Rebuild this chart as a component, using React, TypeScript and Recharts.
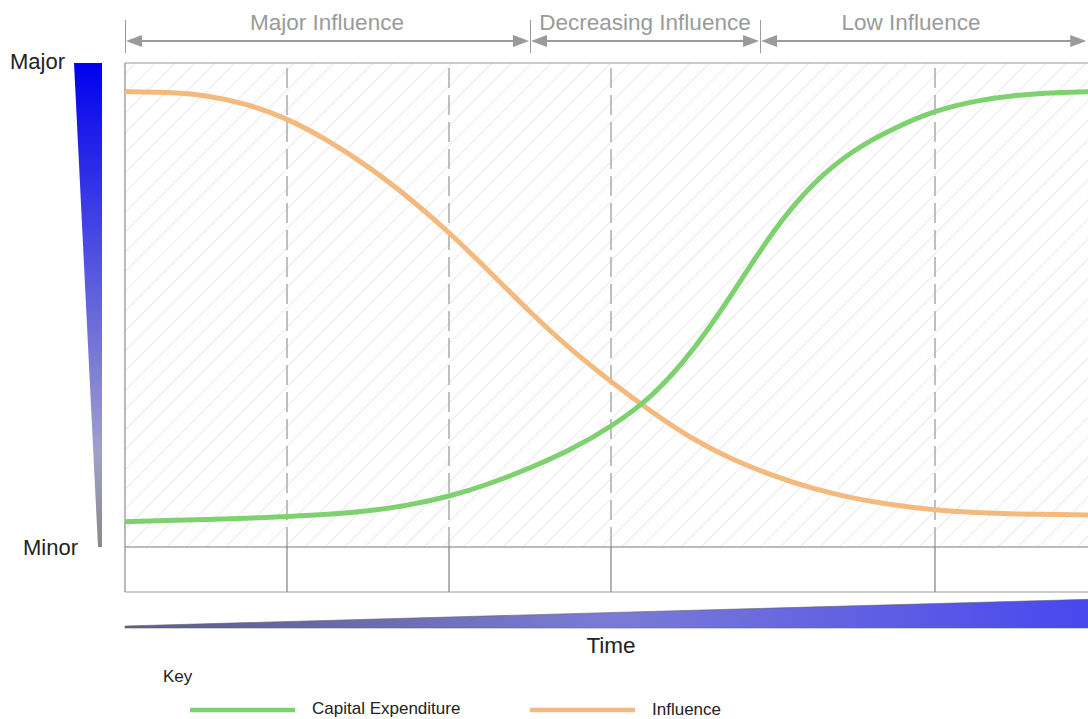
import React from "react";
import { LineChart, Line, XAxis, YAxis, ReferenceArea, ReferenceLine } from "recharts";

// ---- data ----
const timePoints = [0, 0.25, 0.5, 0.75, 1, 1.25, 1.5, 1.75, 2, 2.25, 2.5, 2.75, 3, 3.25, 3.5, 3.75, 4, 4.25, 4.5, 4.75, 5, 5.25, 5.5, 5.75, 6];
const capitalExpenditure = [5.2, 5.5, 5.7, 5.9, 6.3, 6.7, 7.4, 8.6, 10.4, 13.0, 16.3, 20.0, 24.8, 30.8, 40.1, 52.3, 65.5, 75.5, 82.2, 86.6, 90.2, 92.2, 93.4, 93.9, 94.1];
const influence = [94.1, 94.0, 93.4, 91.6, 88.6, 84.1, 78.7, 72.3, 65.1, 56.9, 48.5, 40.8, 34.1, 27.9, 22.3, 18.0, 14.7, 12.0, 10.0, 8.6, 7.6, 7.1, 6.8, 6.7, 6.6];
const seriesNames = ["Capital Expenditure", "Influence"];
const seriesColors = ["#7dd16e", "#f4b97d"];
const gridTimes = [1, 2, 3, 5];
const phaseLabels = ["Major Influence", "Decreasing Influence", "Low Influence"];
const phaseBounds = [0, 2.5, 3.92, 5.94];
const yAxisLabels = ["Major", "Minor"];
const xAxisTitle = "Time";
const keyTitle = "Key";

const data = timePoints.map((t, i) => ({ t, capex: capitalExpenditure[i], influence: influence[i] }));

// layout
const PLOT_LEFT = 125;
const PX_PER_T = 162;
const tx = (t: number) => PLOT_LEFT + t * PX_PER_T;
const Y_MIN = -9.3;
const Y_MAX = 100;
const phaseLabelX = [327, 645, 911];

const textFont = "'Liberation Sans', Arial, sans-serif";
const gray = "#9a9a9a";

function Overlay() {
  const arrowY = 41;
  return (
    <svg width={1088} height={719} style={{ position: "absolute", left: 0, top: 0 }}>
      <defs>
        <pattern id="hatch" patternUnits="userSpaceOnUse" width={14} height={14} patternTransform="rotate(45)">
          <line x1={0} y1={0} x2={0} y2={14} stroke="#d6d6d6" strokeWidth={1.1} />
        </pattern>
        <linearGradient id="vwedge" x1="0" y1="0" x2="0" y2="1">
          <stop offset="0" stopColor="#0000ee" />
          <stop offset="0.45" stopColor="#5a5ae0" />
          <stop offset="0.8" stopColor="#a0a0cc" />
          <stop offset="1" stopColor="#8a8a8a" />
        </linearGradient>
        <linearGradient id="hwedge" x1="0" y1="0" x2="1" y2="0">
          <stop offset="0" stopColor="#5c5c8c" />
          <stop offset="0.5" stopColor="#7b7bd6" />
          <stop offset="1" stopColor="#4646f0" />
        </linearGradient>
      </defs>

      {/* vertical scale wedge */}
      <polygon points="74,63 102,63 102,547 98,547" fill="url(#vwedge)" />
      <text x={10} y={69} fontFamily={textFont} fontSize={22} fill="#222">{yAxisLabels[0]}</text>
      <text x={23} y={555} fontFamily={textFont} fontSize={22} fill="#222">{yAxisLabels[1]}</text>

      {/* time wedge */}
      <polygon points="125,626 1100,599 1100,628 125,628" fill="url(#hwedge)" stroke="#666" strokeWidth={0.6} />
      <text x={611} y={653} textAnchor="middle" fontFamily={textFont} fontSize={22.5} fill="#222">{xAxisTitle}</text>

      {/* phase arrows */}
      {phaseLabels.map((label, i) => {
        const x0 = tx(phaseBounds[i]);
        const x1 = tx(phaseBounds[i + 1]);
        return (
          <g key={label}>
            <line x1={x0 + 4} y1={arrowY} x2={x1 - 4} y2={arrowY} stroke={gray} strokeWidth={2} />
            <polygon points={`${x0 + 1},${arrowY} ${x0 + 17},${arrowY - 6} ${x0 + 17},${arrowY + 6}`} fill={gray} />
            <polygon points={`${x1 - 1},${arrowY} ${x1 - 17},${arrowY - 6} ${x1 - 17},${arrowY + 6}`} fill={gray} />
            <text x={phaseLabelX[i]} y={30} textAnchor="middle" fontFamily={textFont} fontSize={22.5} fill={gray}>{label}</text>
          </g>
        );
      })}
      {phaseBounds.slice(0, 3).map((b) => (
        <line key={b} x1={tx(b) + 0.5} y1={20} x2={tx(b) + 0.5} y2={53} stroke={gray} strokeWidth={1} />
      ))}

      {/* key */}
      <text x={163} y={682} fontFamily={textFont} fontSize={17} fill="#222">{keyTitle}</text>
      <line x1={190} y1={710} x2={295} y2={710} stroke={seriesColors[0]} strokeWidth={4.5} />
      <text x={312} y={714} fontFamily={textFont} fontSize={17} fill="#222">{seriesNames[0]}</text>
      <line x1={530} y1={710} x2={635} y2={710} stroke={seriesColors[1]} strokeWidth={4.5} />
      <text x={652} y={715} fontFamily={textFont} fontSize={17} fill="#222">{seriesNames[1]}</text>
    </svg>
  );
}

export default function App() {
  return (
    <div style={{ position: "relative", width: 1088, height: 719, overflow: "hidden", background: "#fff" }}>
      <style>{`body{margin:0;overflow:hidden;}`}</style>
      <Overlay />
      <div style={{ position: "absolute", left: 0, top: 0 }}>
        <LineChart width={1120} height={602} data={data} margin={{ top: 63, left: PLOT_LEFT, right: 23, bottom: 10 }}>
          <XAxis type="number" dataKey="t" domain={[0, 6]} hide />
          <YAxis type="number" domain={[Y_MIN, Y_MAX]} hide allowDataOverflow />
          <ReferenceArea x1={0} x2={6} y1={0} y2={Y_MAX} fill="url(#hatch)" fillOpacity={1} stroke="none" />
          {gridTimes.map((g) => (
            <ReferenceLine key={"d" + g} segment={[{ x: g, y: 0 }, { x: g, y: Y_MAX }]} stroke="#ababab" strokeWidth={1.5} strokeDasharray="20 7" />
          ))}
          {gridTimes.map((g) => (
            <ReferenceLine key={"s" + g} segment={[{ x: g, y: Y_MIN }, { x: g, y: 0 }]} stroke="#9a9a9a" strokeWidth={1.5} />
          ))}
          <ReferenceLine y={Y_MAX} stroke="#999" strokeWidth={1.2} />
          <ReferenceLine y={0} stroke="#7a7a7a" strokeWidth={1.2} />
          <ReferenceLine y={Y_MIN} stroke="#999" strokeWidth={1.2} />
          <ReferenceLine x={0} stroke="#8a8a8a" strokeWidth={1.2} />
          <Line type="basis" dataKey="influence" name={seriesNames[1]} stroke={seriesColors[1]} strokeWidth={5} dot={false} isAnimationActive={false} />
          <Line type="basis" dataKey="capex" name={seriesNames[0]} stroke={seriesColors[0]} strokeWidth={5} dot={false} isAnimationActive={false} />
        </LineChart>
      </div>
    </div>
  );
}
